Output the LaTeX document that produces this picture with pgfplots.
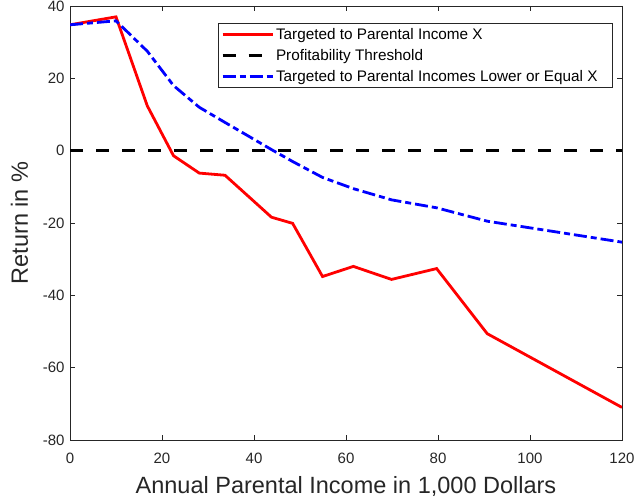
\documentclass[border=0pt]{standalone}
\usepackage{fontspec}
\setmainfont{Liberation Sans}
\usepackage{pgfplots}
\pgfplotsset{compat=1.18}
\definecolor{axgray}{rgb}{0.15,0.15,0.15}
\begin{document}
\begin{tikzpicture}
\begin{axis}[
  name=ax,
  scale only axis, width=552bp, height=434bp,
  xmin=0, xmax=120, ymin=-80, ymax=40,
  xtick={0,20,...,120}, ytick={-80,-60,...,40},
  tick align=inside, xtick pos=both, ytick pos=both,
  major tick length=5bp,
  axis line style={axgray, line width=0.6bp},
  tick style={axgray, line width=0.6bp},
  ticklabel style={font=\fontsize{15bp}{18bp}\selectfont, text=axgray},
  xticklabel style={anchor=base, yshift=-23bp},
  yticklabel style={anchor=east, xshift=-2bp},
  /pgf/number format/assume math mode=true,
  xlabel={Annual Parental Income in 1,000 Dollars},
  ylabel={Return in \%},
  label style={font=\fontsize{23.5bp}{27bp}\selectfont, text=axgray},
  xlabel style={at={(axis description cs:0.5,-0.1244)}, anchor=base},
  ylabel style={at={(axis description cs:-0.0761,0.5)}, anchor=base, rotate=0},
  legend style={at={(0.268,0.9615)}, anchor=north west, draw=axgray, line width=0.6bp,
    font=\fontsize{15.3bp}{18bp}\selectfont, cells={anchor=west}, row sep=4.5bp,
    inner xsep=3bp, inner ysep=3bp},
  legend image code/.code={\draw[#1] (0bp,0bp) -- (50bp,0bp);},
]
\addplot[red, line width=2.8bp] coordinates {
 (0,34.8) (10,37) (16.8,12.4) (22.5,-1.4) (28.1,-6.2) (33.7,-6.8) (39.1,-13)
 (43.8,-18.4) (48.4,-20.1) (54.9,-34.8) (61.6,-32) (69.9,-35.6) (79.7,-32.6)
 (90.7,-50.6) (120,-71)};
\addlegendentry{Targeted to Parental Income X}
\addplot[black, line width=2.8bp, dash pattern=on 13bp off 13bp] coordinates {(0,0) (120,0)};
\addlegendentry{Profitability Threshold}
\addplot[blue, line width=2.8bp, dash pattern=on 13bp off 4bp on 6bp off 4bp] coordinates {
 (0,34.8) (10,35.9) (16.8,27.5) (22.5,18) (28.1,12) (33.7,7.8) (39.1,3.8)
 (43.8,0.3) (48.4,-3) (54.9,-7.4) (61.6,-10.5) (69.9,-13.6) (79.7,-15.8)
 (90.7,-19.5) (120,-25.3)};
\addlegendentry{Targeted to Parental Incomes Lower or Equal X\rule{10bp}{0pt}}
\end{axis}
\pgfresetboundingbox
\path[use as bounding box] ([shift={(-70bp,-62bp)}]ax.south west) rectangle ([shift={(14bp,6bp)}]ax.north east);
\end{tikzpicture}
\end{document}
